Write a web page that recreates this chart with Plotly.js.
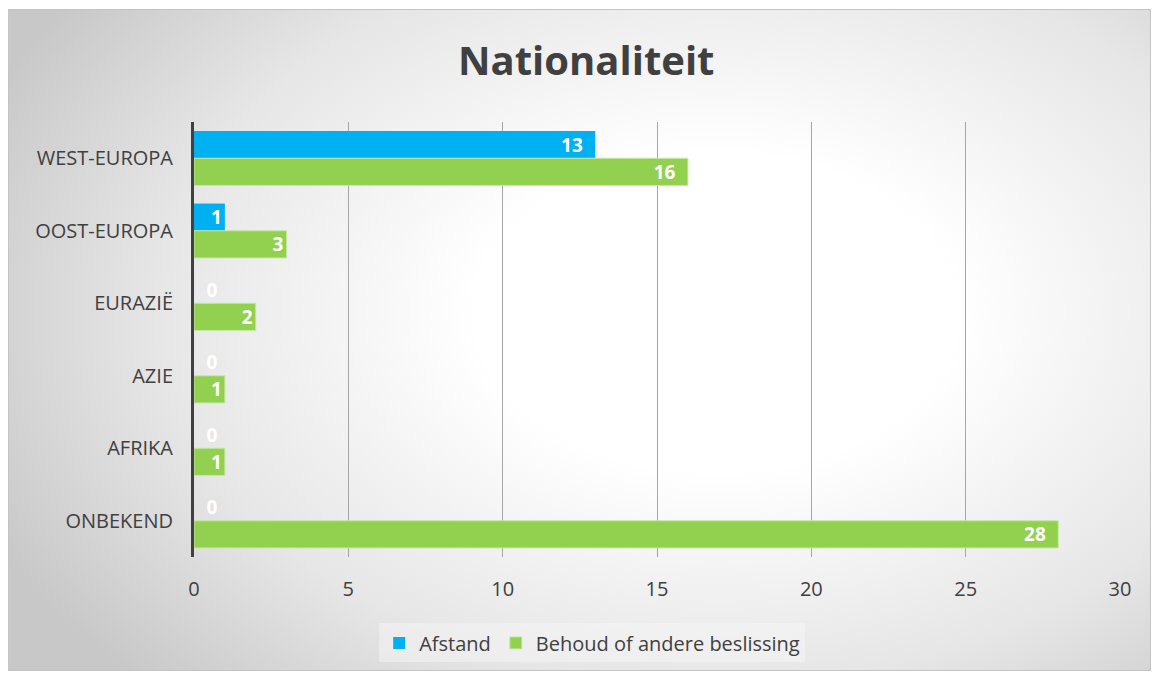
<!DOCTYPE html>
<html>
<head>
<meta charset="utf-8">
<script src="https://cdn.plot.ly/plotly-3.0.1.min.js"></script>
<style>
  body { margin: 0; background: #ffffff; }
  #frame {
    position: absolute; left: 8px; top: 9px; width: 1141px; height: 660px;
    border: 1px solid #c4c4c4;
    background: radial-gradient(ellipse 70% 80% at 62% 46%, #ffffff 0%, #ffffff 30%, #e6e6e6 70%, #c8c8c8 100%);
  }
  #chart { position: absolute; left: 0; top: 0; width: 1154px; height: 673px; }
</style>
</head>
<body>
<div id="frame"></div>
<div id="chart"></div>
<script>
// categories and values
const regions = ["WEST-EUROPA", "OOST-EUROPA", "EURAZIË", "AZIE", "AFRIKA", "ONBEKEND"];
const afstand = [13, 1, 0, 0, 0, 0];
const behoud = [16, 3, 2, 1, 1, 28];
const xTicks = [0, 5, 10, 15, 20, 25, 30];

const labelFont = { family: "Open Sans, sans-serif", size: 19, color: "#ffffff", weight: "bold" };

function textPos(vals) {
  return vals.map(v => v === 0 ? "outside" : "inside");
}
function textOf(vals) {
  // zero labels sit a little right of the axis, others keep some padding from bar end
  return vals.map(v => v === 0 ? "\u2002" + v : (v < 5 ? String(v) : v + "\u2002"));
}

const traces = [
  {
    type: "bar", orientation: "h", name: "Afstand",
    y: regions, x: afstand,
    marker: { color: "#00b0f0" },
    text: textOf(afstand), textposition: textPos(afstand), textangle: 0,
    insidetextanchor: "end", constraintext: "none",
    textfont: labelFont, outsidetextfont: labelFont, insidetextfont: labelFont,
    cliponaxis: false, hoverinfo: "x+name"
  },
  {
    type: "bar", orientation: "h", name: "Behoud of andere beslissing",
    y: regions, x: behoud,
    marker: { color: "#92d050", line: { color: "#c5e8a3", width: 1 } },
    text: textOf(behoud), textposition: textPos(behoud), textangle: 0,
    insidetextanchor: "end", constraintext: "none",
    textfont: labelFont, outsidetextfont: labelFont, insidetextfont: labelFont,
    cliponaxis: false, hoverinfo: "x+name"
  }
];

const layout = {
  width: 1154, height: 673,
  margin: { l: 194, r: 34, t: 122, b: 115 },
  paper_bgcolor: "rgba(0,0,0,0)",
  plot_bgcolor: "rgba(0,0,0,0)",
  barmode: "group",
  bargap: 0.25,
  bargroupgap: 0,
  font: { family: "Open Sans, sans-serif", color: "#404040" },
  title: {
    text: "<b>Nationaliteit</b>",
    font: { size: 40, color: "#404040", family: "Open Sans, sans-serif" },
    x: 0.508, xanchor: "center", y: 0.91, yanchor: "middle"
  },
  xaxis: {
    range: [0, 30],
    tickvals: xTicks,
    ticktext: xTicks.map(String),
    showgrid: true, gridcolor: "#a6a6a6", gridwidth: 1,
    zeroline: false, showline: false,
    tickfont: { size: 20, color: "#404040" },
    ticks: "", ticklabelstandoff: 18
  },
  yaxis: {
    autorange: "reversed",
    showline: true, linecolor: "#404040", linewidth: 3,
    showgrid: false, zeroline: false,
    ticks: "", ticklabelstandoff: 14,
    tickfont: { size: 20, color: "#404040" }
  },
  legend: {
    orientation: "h", x: 0.43, xanchor: "center", y: -0.15, yanchor: "top",
    bgcolor: "rgba(245,245,245,0.5)",
    font: { size: 20, color: "#404040" },
    itemwidth: 30
  },
  showlegend: true
};

Plotly.newPlot("chart", traces, layout, { displayModeBar: false, staticPlot: true });
</script>
</body>
</html>
